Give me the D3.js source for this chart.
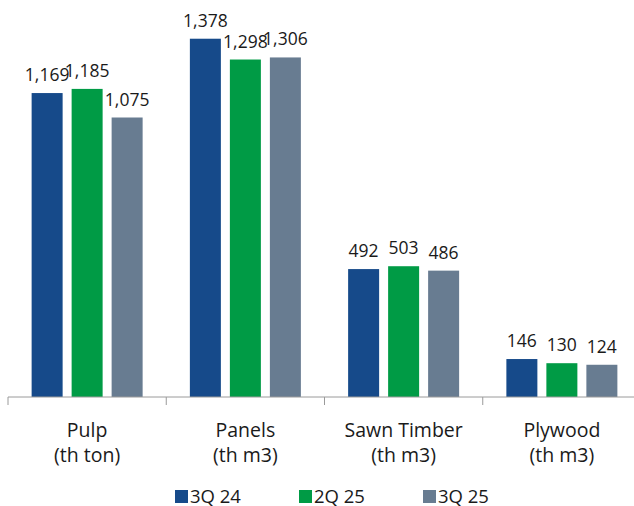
<!DOCTYPE html>
<html>
<head>
<meta charset="utf-8">
<script src="https://cdn.jsdelivr.net/npm/d3@7"></script>
<style>
  body { margin: 0; background: #fff; }
  text { font-family: "Open Sans", sans-serif; fill: #1a1a1a; }
</style>
</head>
<body>
<div id="chart"></div>
<script>
// data
let categories = ["Pulp", "Panels", "Sawn Timber", "Plywood"];
let units = ["(th ton)", "(th m3)", "(th m3)", "(th m3)"];
let seriesNames = ["3Q 24", "2Q 25", "3Q 25"];
let q3_24 = [1169, 1378, 492, 146];
let q2_25 = [1185, 1298, 503, 130];
let q3_25 = [1075, 1306, 486, 124];

let palette = ["#164a8a", "#009b45", "#687c91"];

// setup
let width = 634, height = 506;
let baseY = 397;

let svg = d3.select("#chart").append("svg")
  .attr("width", width)
  .attr("height", height);

let x0 = d3.scaleBand()
  .domain(categories)
  .range([8, 641]);

let groupW = 111;
let x1 = d3.scaleBand()
  .domain(seriesNames)
  .range([0, groupW])
  .paddingInner(0.225);

let y = d3.scaleLinear()
  .domain([0, 1500])
  .range([baseY, 7]);

let color = d3.scaleOrdinal().domain(seriesNames).range(palette);

let rows = [];
categories.forEach((c, i) => {
  [q3_24, q2_25, q3_25].forEach((arr, j) => {
    rows.push({ cat: c, key: seriesNames[j], value: arr[i] });
  });
});

let gx = d => x0(d.cat) + (x0.bandwidth() - groupW) / 2 + x1(d.key);

// bars
svg.append("g")
  .selectAll("rect")
  .data(rows)
  .join("rect")
  .attr("x", gx)
  .attr("width", x1.bandwidth())
  .attr("y", d => y(d.value))
  .attr("height", d => y(0) - y(d.value))
  .attr("fill", d => color(d.key));

// value labels
svg.append("g")
  .selectAll("text")
  .data(rows)
  .join("text")
  .attr("x", d => gx(d) + x1.bandwidth() / 2)
  .attr("y", d => y(d.value) - 12)
  .attr("text-anchor", "middle")
  .attr("font-size", 17.5)
  .text(d => d3.format(",")(d.value));

// axis
let axis = svg.append("g");
axis.append("line")
  .attr("x1", 8).attr("x2", width)
  .attr("y1", baseY).attr("y2", baseY)
  .attr("stroke", "#9a9a9a");
axis.selectAll(".tick")
  .data(categories)
  .join("line")
  .attr("class", "tick")
  .attr("x1", d => x0(d)).attr("x2", d => x0(d))
  .attr("y1", baseY).attr("y2", baseY + 8)
  .attr("stroke", "#9a9a9a");

let lab = svg.append("g")
  .selectAll("text")
  .data(categories)
  .join("text")
  .attr("text-anchor", "middle")
  .attr("font-size", 19.5);
lab.append("tspan")
  .attr("x", d => x0(d) + x0.bandwidth() / 2)
  .attr("y", 437)
  .text(d => d);
lab.append("tspan")
  .attr("x", d => x0(d) + x0.bandwidth() / 2)
  .attr("y", 462)
  .text((d, i) => units[i]);

// legend
let legend = svg.append("g")
  .selectAll("g")
  .data(seriesNames)
  .join("g")
  .attr("transform", (d, i) => `translate(${175 + i * 124},490)`);
legend.append("rect")
  .attr("width", 13).attr("height", 13)
  .attr("fill", d => color(d));
legend.append("text")
  .attr("x", 15).attr("y", 12.5)
  .attr("font-size", 18.5)
  .text(d => d);
</script>
</body>
</html>
